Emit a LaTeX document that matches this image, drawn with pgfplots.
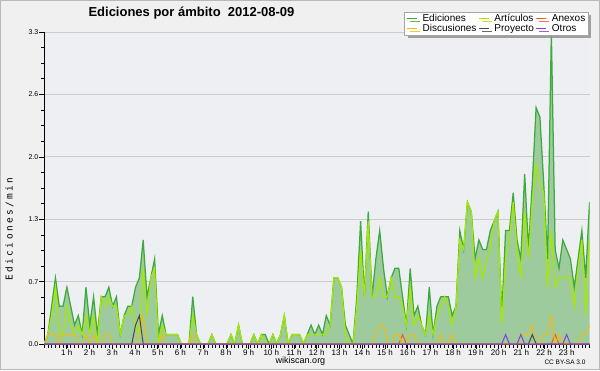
\documentclass[border=0pt]{standalone}
\usepackage{fontspec}
\setmainfont{Liberation Sans}
\newfontfamily\ylabfont[LetterSpace=25]{DejaVu Sans Mono}
\usepackage{pgfplots}
\usepackage{pgfplotstable}
\pgfplotsset{compat=1.18}
\usetikzlibrary{shadows}

\definecolor{outerbg}{HTML}{F0F0F0}
\definecolor{plotbg}{HTML}{EEEFF2}
\definecolor{edline}{HTML}{3DAA3D}
\definecolor{edfill}{HTML}{9ECB9E}
\definecolor{artline}{HTML}{A6E800}
\definecolor{disline}{HTML}{F0BC10}
\definecolor{anxline}{HTML}{EE5A20}
\definecolor{proline}{HTML}{484848}
\definecolor{otrline}{HTML}{8A3BE0}

\pgfplotstableread{
i ed art dis pro anx otr
0 0 0 0 0 0 0
1 0.1 0.1 0.1 0 0 0
2 0.4 0.3 0.1 0 0 0
3 0.7 0.6 0.1 0 0 0
4 0.4 0.1 0 0 0 0
5 0.4 0.1 0.1 0 0 0
6 0.6 0.4 0.1 0 0 0
7 0.4 0.2 0.1 0 0 0
8 0.2 0.1 0.1 0 0 0
9 0.3 0.2 0 0 0 0
10 0.1 0.1 0 0 0 0
11 0.6 0.3 0.1 0 0 0
12 0.2 0.1 0 0 0 0
13 0.5 0.3 0.1 0 0 0
14 0.1 0 0 0 0 0
15 0.5 0.5 0 0 0 0
16 0.5 0.4 0.1 0 0 0
17 0.6 0.5 0.1 0 0 0
18 0.4 0.4 0 0 0 0
19 0.5 0.4 0 0 0 0
20 0.1 0.1 0 0 0 0
21 0.3 0.3 0 0 0 0
22 0.4 0.3 0 0 0 0
23 0.4 0.4 0 0 0 0
24 0.6 0.2 0 0.2 0 0
25 0.7 0.1 0.1 0.3 0 0
26 1.1 0.8 0.3 0 0 0
27 0.5 0.3 0 0 0 0
28 0.7 0.7 0 0 0 0
29 0.9 0.8 0 0 0 0
30 0.1 0 0 0 0 0
31 0.3 0.2 0.1 0 0 0
32 0.1 0.1 0 0 0 0
33 0.1 0.1 0 0 0 0
34 0.1 0.1 0 0 0 0
35 0.1 0.1 0 0 0 0
36 0 0 0 0 0 0
37 0 0 0 0 0 0
38 0 0 0 0 0 0
39 0.5 0.3 0.1 0 0 0
40 0.1 0.1 0 0 0 0
41 0 0 0 0 0 0
42 0 0 0 0 0 0
43 0 0 0 0 0 0
44 0.1 0.1 0 0 0 0
45 0 0 0 0 0 0
46 0 0 0 0 0 0
47 0 0 0 0 0 0
48 0 0 0 0 0 0
49 0.1 0.1 0 0 0 0
50 0 0 0 0 0 0
51 0.2 0.2 0 0 0 0
52 0 0 0 0 0 0
53 0 0 0 0 0 0
54 0 0 0 0 0 0
55 0.1 0.1 0 0 0 0
56 0 0 0 0 0 0
57 0.1 0.1 0 0 0 0
58 0.1 0 0 0 0 0
59 0 0 0 0 0 0
60 0.1 0.1 0 0 0 0
61 0 0 0 0 0 0
62 0.1 0.1 0 0 0 0
63 0.3 0.3 0 0 0 0
64 0 0 0 0 0 0
65 0.1 0.1 0 0 0 0
66 0.1 0.1 0 0 0 0
67 0.1 0.1 0 0 0 0
68 0 0 0 0 0 0
69 0.1 0.1 0 0 0 0
70 0.2 0.1 0 0 0 0
71 0.1 0.1 0 0 0 0
72 0.2 0.1 0 0 0 0
73 0.1 0.1 0 0 0 0
74 0.3 0.1 0 0 0 0
75 0.2 0.2 0 0 0 0
76 0.7 0.7 0 0 0 0
77 0.7 0.7 0 0 0 0
78 0.6 0.6 0 0 0 0
79 0.2 0.1 0 0 0 0
80 0.1 0 0 0 0 0
81 0 0 0 0 0 0
82 0.5 0.4 0 0 0 0
83 1.3 1.0 0 0 0 0
84 0.5 0.5 0 0 0 0
85 1.4 1.3 0 0 0 0
86 0.5 0.5 0 0 0 0
87 0.9 0.5 0.1 0 0 0
88 1.2 0.7 0.2 0 0 0
89 0.8 0.5 0.2 0 0 0
90 0.5 0.5 0 0 0 0
91 0.7 0.7 0 0 0 0
92 0.8 0.5 0.1 0 0 0
93 0.8 0.5 0.1 0 0 0
94 0.5 0.4 0 0 0.1 0
95 0.2 0.2 0 0 0 0
96 0.8 0.6 0.1 0 0 0
97 0.3 0.2 0.1 0 0 0
98 0.4 0.3 0 0 0 0
99 0.2 0.2 0 0 0 0
100 0.1 0.1 0 0 0 0
101 0.6 0.3 0 0 0 0
102 0.1 0.1 0 0 0 0
103 0.4 0.3 0 0 0 0
104 0.5 0.4 0.1 0 0 0
105 0.5 0.5 0 0 0 0
106 0.5 0.4 0 0 0 0
107 0.3 0.2 0.1 0 0 0
108 0.4 0.4 0 0 0 0
109 1.2 1.1 0 0 0 0
110 1.0 1.0 0 0 0 0
111 1.5 1.5 0 0 0 0
112 1.4 1.4 0 0 0 0
113 0.9 0.7 0 0 0 0
114 1.1 0.9 0 0 0 0
115 1.0 0.7 0 0 0 0
116 1.0 0.9 0 0 0 0
117 1.2 1.0 0 0 0 0
118 1.3 1.3 0 0 0 0
119 1.4 1.4 0 0 0 0
120 0.3 0.2 0 0 0 0
121 1.2 0.9 0 0 0 0.1
122 1.2 1.1 0 0 0 0
123 1.6 1.5 0 0 0 0
124 1.1 1.0 0 0 0 0
125 0.9 0.7 0.1 0 0 0.1
126 1.8 1.4 0.1 0 0 0
127 1.0 0.9 0.1 0 0 0
128 1.7 1.5 0.2 0.1 0 0
129 2.5 1.9 0 0 0 0
130 2.4 1.7 0 0 0 0
131 1.7 1.6 0.1 0 0 0
132 0.9 0.6 0.1 0 0 0
133 3.3 1.2 0.3 0 0 0
134 1.0 0.6 0 0 0.1 0
135 0.8 0.7 0.1 0 0 0
136 1.1 0.7 0 0 0 0
137 1.0 0.7 0 0 0 0.1
138 0.9 0.7 0 0 0 0
139 0.6 0.4 0 0 0 0
140 0.9 0.8 0 0 0 0
141 1.2 1.1 0.1 0 0 0
142 0.7 0.3 0.1 0 0 0
143 1.5 1.1 0.2 0 0 0
}\data

\begin{document}
\begin{tikzpicture}[x=1pt,y=1pt]
\fill[outerbg] (0,0) rectangle (600,370);
\draw[gray!55, line width=1pt] (0.5,0.5) rectangle (599.5,369.5);
\begin{axis}[
  at={(44pt,26pt)}, anchor=south west,
  scale only axis, width=545.5pt, height=312pt,
  xmin=0, xmax=143, ymin=0, ymax=3.3,
  axis lines=left, axis line style={-, black, line width=0.8pt},
  axis background/.style={fill=plotbg},
  ytick={0,0.66,1.32,1.98,2.64,3.3},
  yticklabels={0.0,0.7,1.3,2.0,2.6,3.3},
  minor y tick num=3,
  ymajorgrids, major grid style={color=black!20, line width=0.8pt},
  tick align=outside, major tick length=4.5pt, minor tick length=3.5pt,
  tick style={black, line width=0.6pt},
  yticklabel style={font=\fontsize{7}{8}\selectfont, inner sep=1pt},
  xtick={5.958,11.917,17.875,23.833,29.792,35.75,41.708,47.667,53.625,59.583,65.542,71.5,77.458,83.417,89.375,95.333,101.292,107.25,113.208,119.167,125.125,131.083,137.042},
  xticklabels={1 h,2 h,3 h,4 h,5 h,6 h,7 h,8 h,9 h,10 h,11 h,12 h,13 h,14 h,15 h,16 h,17 h,18 h,19 h,20 h,21 h,22 h,23 h},
  minor xtick={0,1,...,143},
  xticklabel style={font=\fontsize{8}{9}\selectfont, inner sep=1pt},
  legend columns=3,
  legend cell align=left,
  legend image code/.code={\draw[#1, line width=1pt] (0pt,0pt) -- (10pt,0pt);},
  legend style={
    at={(1,1)}, anchor=north east, xshift=-1pt, yshift=20.3pt,
    draw=gray!70, fill=white,
    font=\fontsize{10}{10}\selectfont,
    inner xsep=2pt, inner ysep=2pt,
    nodes={inner xsep=1pt, inner ysep=0pt, text height=7.5pt, text depth=2.2pt},
    /tikz/every odd column/.append style={column sep=4pt},
    /tikz/every even column/.append style={column sep=1pt},
    drop shadow={shadow xshift=3pt, shadow yshift=-3pt, fill=gray!90, opacity=0.8},
  },
]
\addplot[draw=none, fill=edfill, forget plot] table[x=i,y=ed]{\data} \closedcycle;
\addplot[edline, line width=1.25pt] table[x=i,y=ed]{\data};
\addlegendentry{Ediciones}
\addplot[artline, line width=1.2pt] table[x=i,y=art]{\data};
\addlegendentry{Artículos}
\addplot[anxline, line width=1pt] table[x=i,y=anx]{\data};
\addlegendentry{Anexos}
\addplot[disline, line width=1pt] table[x=i,y=dis]{\data};
\addlegendentry{Discusiones}
\addplot[proline, line width=1pt] table[x=i,y=pro]{\data};
\addlegendentry{Proyecto}
\addplot[otrline, line width=1pt] table[x=i,y=otr]{\data};
\addlegendentry{Otros}
\end{axis}
\node[anchor=west, font=\bfseries\fontsize{13}{13}\selectfont] at (85,356.5) {Ediciones por ámbito\ \ 2012-08-09};
\node[rotate=90, font=\ylabfont\fontsize{9.5}{9.5}\selectfont] at (9.5,141) {Ediciones/min};
\node[font=\fontsize{9}{9}\selectfont] at (300.5,9) {wikiscan.org};
\node[anchor=east, font=\fontsize{6.5}{6.5}\selectfont] at (589,8) {CC BY-SA 3.0};
\pgfresetboundingbox
\useasboundingbox (0,0) rectangle (600,370);
\end{tikzpicture}
\end{document}
